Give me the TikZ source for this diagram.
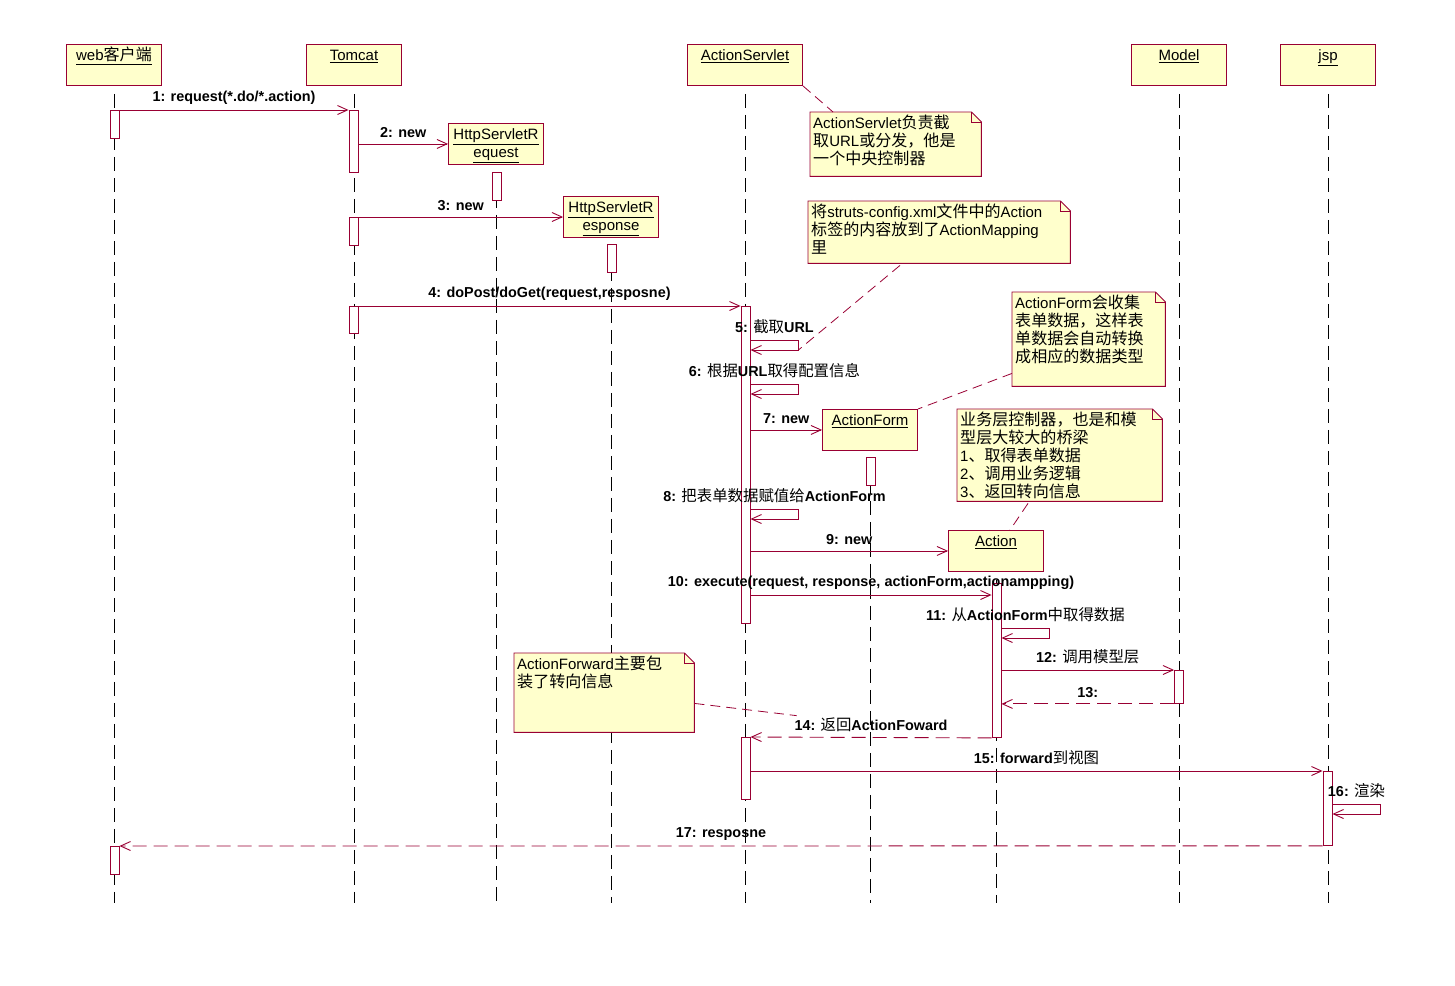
\documentclass[tikz,border=0pt]{standalone}
\usepackage{fontspec}
\setmainfont{Liberation Sans}
\newfontfamily\cjk[Scale=1.07]{Noto Sans CJK SC}
\usetikzlibrary{arrows.meta}

\definecolor{umlred}{RGB}{153,0,51}
\definecolor{umlyellow}{RGB}{255,255,204}
\newcommand{\zh}[1]{{\cjk\mdseries #1}}

\tikzset{
  obj/.style={draw=umlred, fill=umlyellow, line width=0.9pt, anchor=north,
    minimum width=95, inner sep=4.5, text height=12, text depth=20,
    align=center, font=\fontsize{15}{18}\selectfont},
  objtwo/.style={obj, text height=29.5, text depth=2.5},
  bar/.style={draw=umlred, fill=white, line width=0.9pt, anchor=north,
    minimum width=9, inner sep=0},
  lifeline/.style={black, line width=0.8pt, dash pattern=on 14pt off 7pt},
  msg/.style={umlred, line width=0.9pt, ->},
  ret/.style={msg, dash pattern=on 14pt off 7pt},
  lbl/.style={above, inner sep=1.5, yshift=4, black,
    font=\fontsize{14.4}{17}\selectfont\bfseries},
  notearea/.style={anchor=north west, inner sep=0},
  noteline/.style={draw=umlred, fill=umlyellow, line width=0.9pt},
  notetext/.style={anchor=north west, align=left, inner sep=3,
    font=\fontsize{15}{18}\selectfont},
  notelink/.style={umlred, line width=0.8pt, dash pattern=on 10pt off 6pt}
}

% note with folded corner: name, x, y, width, height, text
\newcommand{\umlnote}[6]{%
  \node[notearea, minimum width=#4, minimum height=#5] (#1) at (#2,#3) {};
  \draw[noteline] (#1.north west) -- ([xshift=-10]#1.north east)
    -- ([yshift=-10]#1.north east) -- (#1.south east) -- (#1.south west) -- cycle;
  \draw[noteline, fill=none] ([xshift=-10]#1.north east) |- ([yshift=-10]#1.north east);
  \node[notetext] (#1-txt) at (#1.north west) {#6};
}

\begin{document}
\begin{tikzpicture}[x=1pt, y=-1pt, >={Straight Barb[length=10pt,width=9pt]}]
    \useasboundingbox (0,0) rectangle (1455,985);
    \coordinate (bottom) at (0,903);

    % objects
    \node[obj] (web) at (114,44) {\underline{web\zh{客户端}}};
    \node[obj] (tomcat) at (354,44) {\underline{Tomcat}};
    \node[obj, minimum width=115] (servlet) at (745,44) {\underline{ActionServlet}};
    \node[obj] (model) at (1179,44) {\underline{Model}};
    \node[obj] (jsp) at (1328,44) {\underline{jsp}};
    \node[objtwo] (req) at (496,123) {\underline{HttpServletR}\\\underline{equest}};
    \node[objtwo] (resp) at (611,196) {\underline{HttpServletR}\\\underline{esponse}};
    \node[obj] (form) at (870,409) {\underline{ActionForm}};
    \node[obj] (action) at (996,530) {\underline{Action}};

    % lifelines
    \foreach \n in {web,tomcat,servlet,model,jsp,req,resp,form,action}
        \draw[lifeline] ([yshift=-8]\n.south) -- (\n.south |- bottom);

    % activations
    \node[bar, minimum height=28] (wb1) at (114.5,110) {};
    \node[bar, minimum height=28] (wb2) at (114.5,846) {};
    \node[bar, minimum height=62] (tc1) at (353.5,110) {};
    \node[bar, minimum height=28] (tc2) at (353.5,217) {};
    \node[bar, minimum height=27] (tc3) at (353.5,306) {};
    \node[bar, minimum height=28] (rq1) at (496.5,172) {};
    \node[bar, minimum height=28] (rs1) at (611.5,244) {};
    \node[bar, minimum height=317] (as1) at (745.5,306) {};
    \node[bar, minimum height=62] (as2) at (745.5,737) {};
    \node[bar, minimum height=28] (af1) at (870.5,457) {};
    \node[bar, minimum height=154] (ac1) at (996.5,583) {};
    \node[bar, minimum height=33] (md1) at (1179,670) {};
    \node[bar, minimum height=74] (js1) at (1327.5,771) {};

    % messages
    \draw[msg] (wb1.north east) -- (tc1.north west) node[lbl, midway] {1: request(*.do/*.action)};
    \draw[msg] (tc1.east |- req.west) -- (req.west) node[lbl, midway] {2: new};
    \draw[msg] (tc2.north east) -- (tc2.north east -| resp.west) node[lbl, midway] {3: new};
    \draw[msg] (tc3.north east) -- (as1.north west) node[lbl, midway] {4: doPost/doGet(request,resposne)};
    \draw[msg] ([yshift=-34]as1.north east) -- ++(48,0) node[lbl, midway] {5: \zh{截取}URL}
        -- ++(0,10) coordinate (s5) -- ++(-48,0);
    \draw[msg] ([yshift=-78]as1.north east) -- ++(48,0) node[lbl, midway] {6: \zh{根据}URL\zh{取得配置信息}}
        -- ++(0,10) -- ++(-48,0);
    \draw[msg] (as1.east |- form.west) -- (form.west) node[lbl, midway] {7: new};
    \draw[msg] ([yshift=-203]as1.north east) -- ++(48,0) node[lbl, midway] {8: \zh{把表单数据赋值给}ActionForm}
        -- ++(0,10) -- ++(-48,0);
    \draw[msg] (as1.east |- action.west) -- (action.west) node[lbl, midway] {9: new};
    \coordinate (m10) at ([yshift=-12]ac1.north west);
    \draw[msg] (as1.east |- m10) -- (m10) node[lbl, midway] {10: execute(request, response, actionForm,actionampping)};
    \draw[msg] ([yshift=-45]ac1.north east) -- ++(48,0) node[lbl, midway] {11: \zh{从}ActionForm\zh{中取得数据}}
        -- ++(0,10) -- ++(-48,0);
    \draw[msg] (ac1.east |- md1.north) -- (md1.north west) node[lbl, midway] {12: \zh{调用模型层}};
    \draw[ret] (md1.south west) -- (ac1.east |- md1.south) node[lbl, midway] {13:};
    \draw[ret] (ac1.south west) -- (as2.north east) node[lbl, midway] (l14) {14: \zh{返回}ActionFoward};
    \draw[msg] (as2.east |- js1.north) -- (js1.north west) node[lbl, midway] {15: forward\zh{到视图}};
    \draw[msg] ([yshift=-33]js1.north east) -- ++(48,0) node[lbl, midway] {16: \zh{渲染}}
        -- ++(0,10) -- ++(-48,0);
    \draw[ret] (js1.south west) -- (wb2.north east) node[lbl, midway] {17: resposne};

    % notes
    \umlnote{n1}{810}{112}{171}{64}{ActionServlet\zh{负责截}\\\zh{取}URL\zh{或分发，他是}\\\zh{一个中央控制器}}
    \umlnote{n2}{808}{201}{262}{62}{\zh{将}struts-config.xml\zh{文件中的}Action\\\zh{标签的内容放到了}ActionMapping\\\zh{里}}
    \umlnote{n3}{1012}{292}{153}{94}{ActionForm\zh{会收集}\\\zh{表单数据，这样表}\\\zh{单数据会自动转换}\\\zh{成相应的数据类型}}
    \umlnote{n4}{957}{409}{205}{92}{\zh{业务层控制器，也是和模}\\\zh{型层大较大的桥梁}\\1\zh{、取得表单数据}\\2\zh{、调用业务逻辑}\\3\zh{、返回转向信息}}
    \umlnote{n5}{514}{653}{180}{79}{ActionForward\zh{主要包}\\\zh{装了转向信息}}

    \draw[notelink] (servlet.south east) -- ([xshift=23]n1.north west);
    \draw[notelink] ([xshift=92,yshift=-2]n2.south west) -- (s5);
    \draw[notelink] ([yshift=13]n3.south west) -- (form.north east);
    \draw[notelink] ([xshift=71,yshift=-2]n4.south west) -- ([xshift=14]action.north);
    \draw[notelink] ([yshift=29]n5.south east) -- (l14);
\end{tikzpicture}
\end{document}
